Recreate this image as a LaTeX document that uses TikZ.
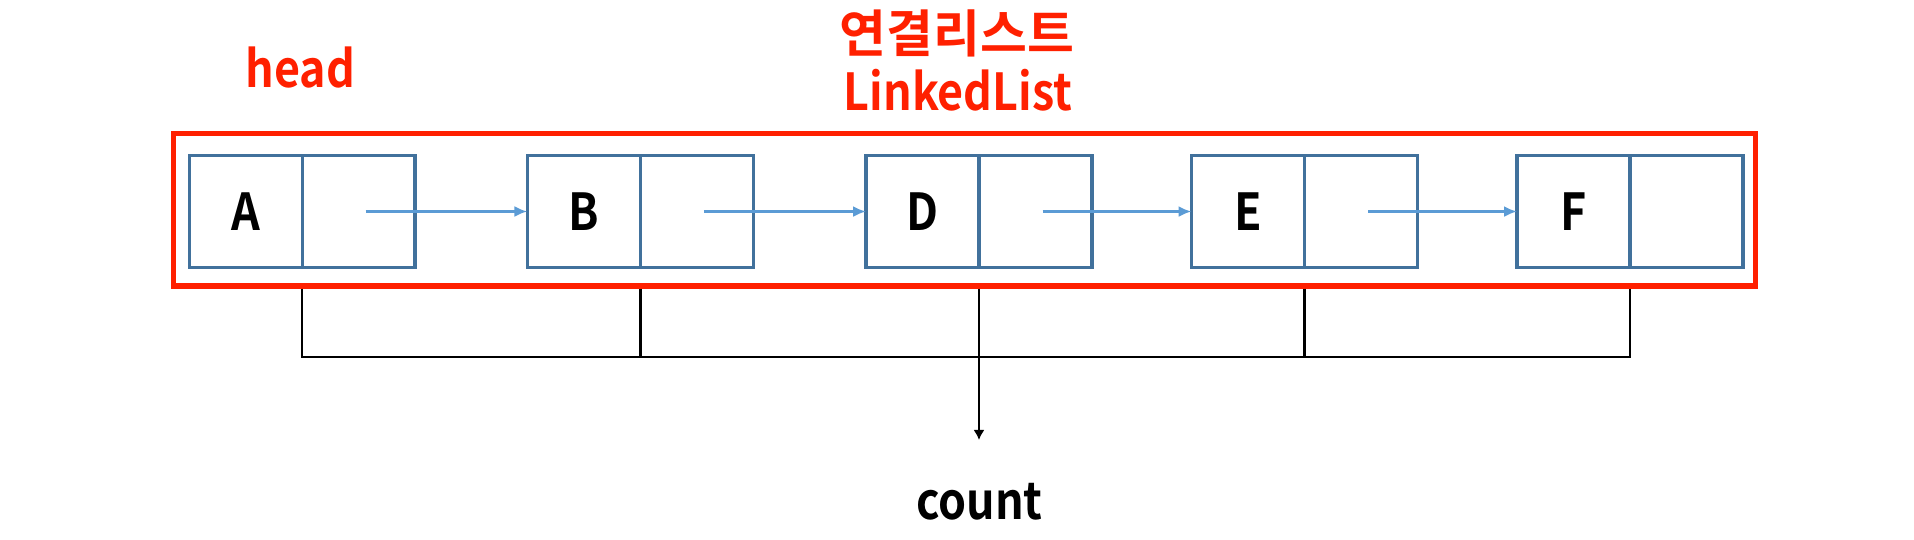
\documentclass[tikz,border=0pt]{standalone}
\usepackage{fontspec}
\setmainfont{Noto Sans CJK KR}[BoldFont={Noto Sans CJK KR Bold}]
\newfontfamily\narrowfont{Noto Sans CJK KR Bold}[FakeStretch = 0.88]
\usetikzlibrary{positioning, arrows.meta}
\definecolor{listred}{RGB}{255,32,0}
\definecolor{cellblue}{RGB}{65,113,156}
\definecolor{ptrblue}{RGB}{91,155,213}

\begin{document}
\begin{tikzpicture}[x = 0.02cm, y = -0.02cm,
	cell/.style = {draw = cellblue, line width = 1.8pt, outer sep = 0pt, inner sep = 0pt,
		minimum width = 2.26cm, minimum height = 2.24cm, font = \fontsize{29}{34}\narrowfont},
	ptr/.style = {ptrblue, line width = 1.4pt, -{Latex[length = 7.4pt, width = 6.3pt]}},
	wire/.style = {black, line width = 1.5pt},
	caption/.style = {font = \fontsize{29}{34}\narrowfont, inner sep = 0pt}]

	\useasboundingbox (0, 0) rectangle (1914, 539);

	% List frame

	\node (list) [draw = listred, line width = 3pt, minimum width = 31.64cm, minimum height = 3.05cm] at (964.5, 209.75) {};

	% Nodes

	\foreach \name/\x in {A/245.6, B/583.8, D/922.5, E/1248, F/1573.5} {
		\node (\name) [cell] at (\x, 211.5) {\name};
		\node (\name-next) [cell, right = 0pt of \name] {};
	}

	% Pointers

	\foreach \from/\to in {A/B, B/D, D/E, E/F}
		\draw [ptr] ([xshift = 4pt]\from-next.center) -- (\to.west);

	% Counting lines

	\coordinate (bus) at (0, 357);
	\coordinate (tip) at (0, 440);

	\draw [wire] (A.east |- list.south) -- (A.east |- bus) -- (F.east |- bus) -- (F.east |- list.south);
	\foreach \name in {B, D, E}
		\draw [wire] (\name.east |- list.south) -- (\name.east |- bus);
	\draw [wire, -{Latex[length = 5.7pt, width = 6.3pt]}] (D.east |- bus) -- (D.east |- tip);

	% Labels

	\node (head) [caption, text = listred, anchor = base] at (300.5, 87) {head};
	\node (title) [caption, text = listred, anchor = base, font = \fontsize{29}{34}\selectfont\bfseries] at (957, 52) {연결리스트};
	\node (name) [caption, text = listred, anchor = base] at (958, 110) {LinkedList};
	\node (count) [caption, anchor = base] at (979.5, 519) {count};

\end{tikzpicture}
\end{document}
